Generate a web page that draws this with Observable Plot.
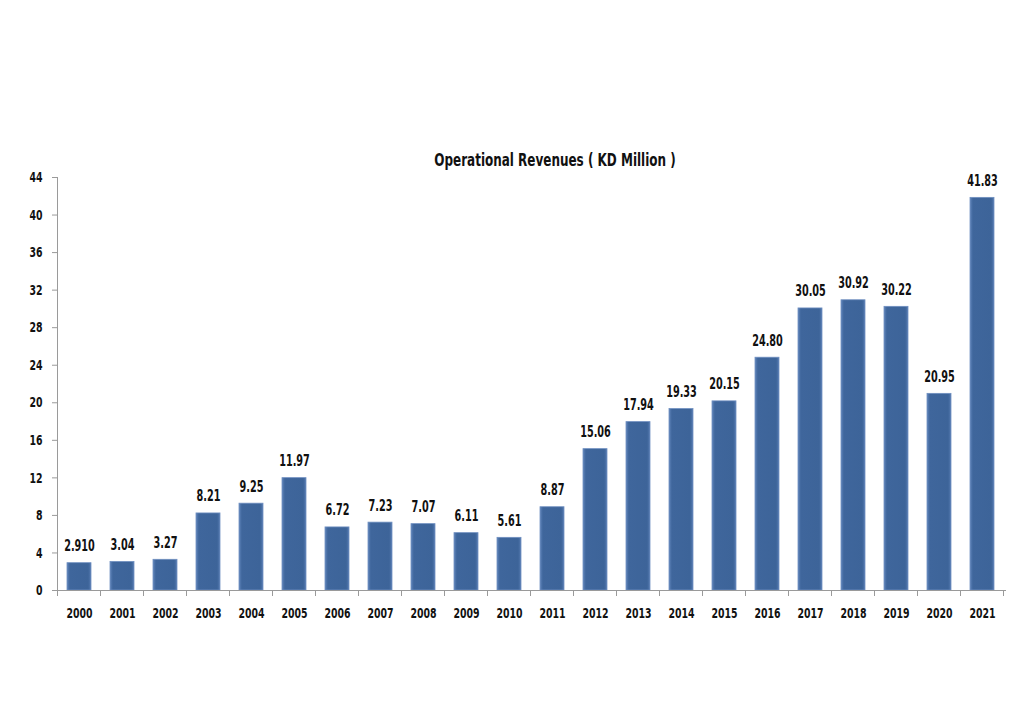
<!DOCTYPE html>
<html>
<head>
<meta charset="utf-8">
<script src="https://cdn.jsdelivr.net/npm/d3@7"></script>
<script src="https://cdn.jsdelivr.net/npm/@observablehq/plot@0.6"></script>
<style>
  html, body { margin: 0; padding: 0; background: #fff; }
  #wrap { position: relative; width: 1024px; height: 709px; }
  #title {
    position: absolute; left: 0; width: 1110px; top: 149px;
    text-align: center; font-family: "DejaVu Sans", sans-serif; font-stretch: condensed;
    font-weight: bold; font-size: 18px; color: #111;
    transform: scaleX(0.74); transform-origin: 555px 50%;
  }
  #chart { position: absolute; left: 0; top: 0; }
  #chart svg text { font-stretch: condensed; }
</style>
</head>
<body>
<div id="wrap">
  <div id="chart"></div>
  <div id="title">Operational Revenues ( KD Million )</div>
</div>
<script>
const years = ["2000","2001","2002","2003","2004","2005","2006","2007","2008","2009","2010",
               "2011","2012","2013","2014","2015","2016","2017","2018","2019","2020","2021"];
const values = [2.910, 3.04, 3.27, 8.21, 9.25, 11.97, 6.72, 7.23, 7.07, 6.11, 5.61,
                8.87, 15.06, 17.94, 19.33, 20.15, 24.80, 30.05, 30.92, 30.22, 20.95, 41.83];
const valueLabels = ["2.910","3.04","3.27","8.21","9.25","11.97","6.72","7.23","7.07","6.11","5.61",
                     "8.87","15.06","17.94","19.33","20.15","24.80","30.05","30.92","30.22","20.95","41.83"];
const yTicks = [0, 4, 8, 12, 16, 20, 24, 28, 32, 36, 40, 44];

const data = years.map((y, i) => ({year: y, value: values[i], label: valueLabels[i]}));
const font = '"DejaVu Sans", sans-serif';

// boundary tick marks between categories on the x axis, computed from Plot's band scale
function boundaryTicks(index, scales, values, dimensions) {
  const g = d3.create("svg:g");
  const x = scales.x;
  const step = x.step(), bw = x.bandwidth();
  const y0 = scales.y(0);
  const xs = years.map(v => x(v) - (step - bw) / 2);
  xs.push(x(years[years.length - 1]) + bw + (step - bw) / 2);
  g.selectAll("line").data(xs).join("line")
    .attr("x1", d => d).attr("x2", d => d)
    .attr("y1", y0).attr("y2", y0 + 6)
    .attr("stroke", "#9a9a9a").attr("stroke-width", 1);
  return g.node();
}

const plot = Plot.plot({
  width: 1024,
  height: 709,
  marginTop: 177,
  marginBottom: 119,
  marginLeft: 57,
  marginRight: 19,
  style: {fontFamily: font, fontWeight: "bold", fontSize: "14px", color: "#111", background: "#fff"},
  x: {domain: years, paddingInner: 0.44, paddingOuter: 0.22, label: null},
  y: {domain: [0, 44], label: null},
  marks: [
    Plot.barY(data, {x: "year", y: "value", fill: "url(#barGrad)", stroke: "#6f8fc0", strokeWidth: 0.8}),
    Plot.text(data, {x: "year", y: "value", text: "label", lineAnchor: "bottom", dy: -12,
                     fontSize: 15, fontWeight: "bold", fill: "#111"}),
    Plot.axisY({ticks: yTicks, tickSize: 5, tickPadding: 10, stroke: "#9a9a9a",
                fontSize: 14.5, fontWeight: "bold", fill: "#111", label: null}),
    Plot.axisX({tickSize: 0, tickPadding: 17, fontSize: 14.5, fontWeight: "bold", fill: "#111", label: null}),
    Plot.frame({anchor: "left", stroke: "#9a9a9a"}),
    Plot.frame({anchor: "bottom", stroke: "#9a9a9a"}),
    Plot.ruleY([0], {render: boundaryTicks})
  ]
});

// gradient definition for the bevelled bar look
const svg = d3.select(plot);
const defs = svg.insert("defs", ":first-child");
const grad = defs.append("linearGradient").attr("id", "barGrad")
  .attr("x1", "0").attr("x2", "1").attr("y1", "0").attr("y2", "0");
[[0, "#5f84ba"], [0.12, "#3f669c"], [0.88, "#3d6499"], [1, "#557ab0"]].forEach(([o, c]) =>
  grad.append("stop").attr("offset", o).attr("stop-color", c));

// narrow, tall lettering like the reference (scale each label about its own anchor)
svg.selectAll("text").each(function() {
  const t = d3.select(this);
  const tr = t.attr("transform");
  if (tr) {
    t.attr("transform", tr + " scale(0.72,1)");
  } else {
    const x = +t.attr("x") || 0, y = +t.attr("y") || 0;
    t.attr("x", null).attr("y", null)
     .attr("transform", `translate(${x},${y}) scale(0.72,1)`);
  }
});

document.getElementById("chart").append(plot);
</script>
</body>
</html>
